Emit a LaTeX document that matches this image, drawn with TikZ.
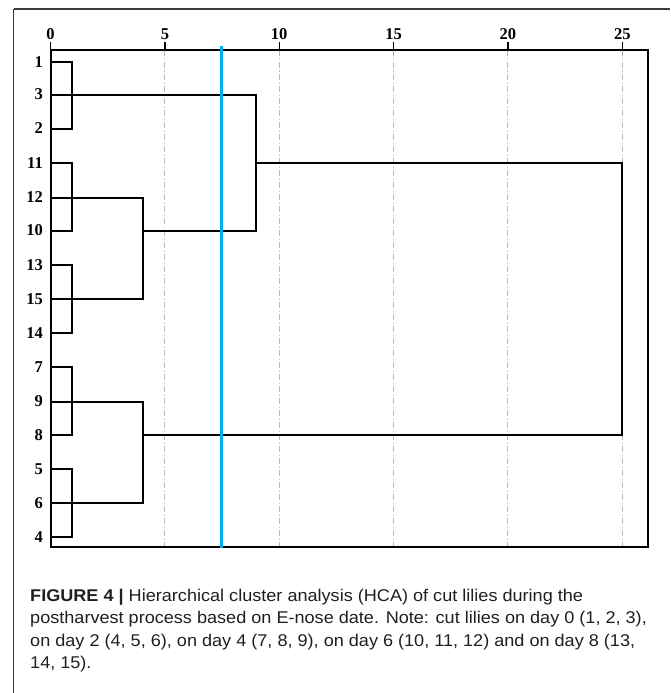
\documentclass[tikz,border=0pt]{standalone}
\usepackage{fontspec}
\setmainfont{Liberation Serif}
\newfontfamily\capfont{Liberation Sans}
\definecolor{cutblue}{RGB}{0,174,239}
\definecolor{gridgrey}{RGB}{185,185,185}
\definecolor{framegrey}{RGB}{60,60,60}
\newcommand{\capline}[1]{\scalebox{1.064}[1]{#1}}
\begin{document}
\begin{tikzpicture}[x=1pt,y=-1pt,
  dend/.style={line width=2pt,black,line cap=rect,line join=miter},
  boxline/.style={line width=2pt,black,line join=miter},
  tickline/.style={line width=1.4pt,black},
  gridline/.style={line width=1pt,gridgrey,dash pattern=on 6pt off 2.5pt on 1pt off 2.5pt},
  cutline/.style={line width=2.8pt,cutblue},
  frameline/.style={line width=1.5pt,framegrey},
  leaflab/.style={anchor=east,inner sep=0pt,font=\fontsize{16.5}{18}\selectfont\bfseries},
  axlab/.style={anchor=base,inner sep=0pt,font=\fontsize{16.5}{18}\selectfont\bfseries},
  caption/.style={anchor=base west,inner sep=0pt,font=\capfont\fontsize{17}{20}\selectfont,text=black!88}]
\useasboundingbox (0,0) rectangle (670,693);
% outer frame (only left and top visible)
\coordinate (ftl) at (13.5,9);
\coordinate (ftr) at (670,9);
\coordinate (fbl) at (13.5,693);
\draw[frameline] (ftl) -- (ftr);
\draw[frameline] (ftl) -- (fbl);
% grid lines
\foreach \u/\x in {5/164.9,10/279.2,15/393.6,20/507.9,25/622.3}{
  \coordinate (g\u t) at (\x,50);
  \coordinate (g\u b) at (\x,547);
  \draw[gridline] (g\u t) -- (g\u b);
}
% ticks and axis labels
\foreach \u/\x in {0/50.5,5/164.9,10/279.2,15/393.6,20/507.9,25/622.3}{
  \coordinate (t\u a) at (\x,42);
  \coordinate (t\u b) at (\x,50);
  \draw[tickline] (t\u a) -- (t\u b);
  \node[axlab] (ax\u) at (\x,39.5) {\u};
}
% leaf rows
\foreach \lab/\y in {1/61.7,3/94.5,2/128.5,11/162.7,12/197.5,10/230.5,13/265,15/299,14/333,7/367,9/401.5,8/435,5/469.3,6/503.3,4/536.7}{
  \coordinate (r\lab) at (50.5,\y);
  \node[leaflab] (n\lab) at (43,\y) {\lab};
}
% merge heights
\coordinate (xa) at (72.3,0);
\coordinate (xb) at (142.5,0);
\coordinate (xc) at (256.3,0);
\coordinate (xd) at (622.3,0);
% dendrogram
\draw[dend] (r1) -- (r1 -| xa) -- (r2 -| xa) -- (r2);
\draw[dend] (r11) -- (r11 -| xa) -- (r10 -| xa) -- (r10);
\draw[dend] (r13) -- (r13 -| xa) -- (r14 -| xa) -- (r14);
\draw[dend] (r7) -- (r7 -| xa) -- (r8 -| xa) -- (r8);
\draw[dend] (r5) -- (r5 -| xa) -- (r4 -| xa) -- (r4);
\draw[dend] (r12) -- (r12 -| xb) -- (r15 -| xb) -- (r15);
\draw[dend] (r9) -- (r9 -| xb) -- (r6 -| xb) -- (r6);
\draw[dend] (r3) -- (r3 -| xc) -- (r10 -| xc) -- (r10 -| xb);
\draw[dend] (r11 -| xc) -- (r11 -| xd) -- (r8 -| xd) -- (r8 -| xb);
% plot box
\coordinate (btl) at (50.5,50);
\coordinate (bbr) at (648.3,547);
\draw[boxline] (btl) rectangle (bbr);
% cut line
\coordinate (ct) at (221.3,46);
\coordinate (cb) at (221.3,548);
\draw[cutline] (ct) -- (cb);
% caption
\node[caption] (c1) at (30,601) {\capline{{\bfseries FIGURE 4 |} Hierarchical cluster analysis (HCA) of cut lilies during the}};
\node[caption] (c2) at (30,623.5) {\capline{postharvest process based on E-nose date. Note: cut lilies on day 0 (1, 2, 3),}};
\node[caption] (c3) at (30,646) {\capline{on day 2 (4, 5, 6), on day 4 (7, 8, 9), on day 6 (10, 11, 12) and on day 8 (13,}};
\node[caption] (c4) at (30,668.5) {\capline{14, 15).}};
\end{tikzpicture}
\end{document}
